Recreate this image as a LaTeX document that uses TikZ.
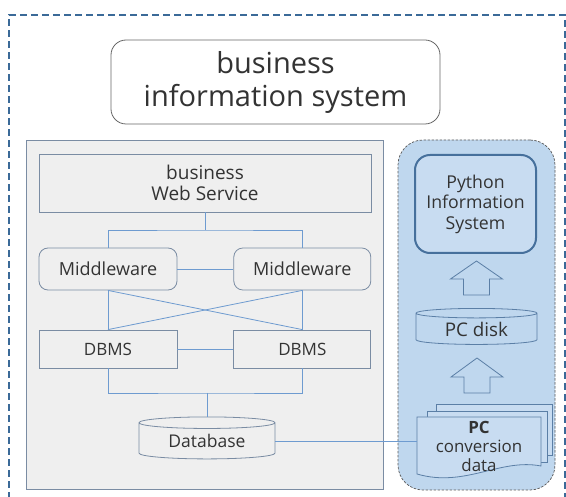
\documentclass[tikz,border=0pt]{standalone}
\usepackage{fontspec}
\setmainfont{Open Sans}
\usetikzlibrary{positioning, shapes.geometric}

\definecolor{framecol}{HTML}{3B6A98}
\definecolor{edgecol}{HTML}{7A8CA3}
\definecolor{linkcol}{HTML}{6E9BD0}
\definecolor{panelgray}{HTML}{EFEFEF}
\definecolor{panelblue}{HTML}{BFD7EE}
\definecolor{pyfill}{HTML}{C8DCF1}
\definecolor{pyedge}{HTML}{46709C}
\definecolor{pcedge}{HTML}{5B7FA6}

\newcommand{\fsz}[2]{\fontsize{#1}{#2}\selectfont}

\tikzset{
x=1pt, y=-1pt, % one unit is one pixel, y runs downwards
txt/.style={font=\fsz{17}{20}, text=black!80, align=center}, % text in the boxes
box/.style={draw=edgecol, fill=panelgray, line width=0.8pt, txt, inner sep=0pt}, % plain boxes in the grey panel
rbox/.style={box, rounded corners=9pt}, % rounded boxes (middleware)
link/.style={draw=linkcol, line width=0.8pt}, % connecting lines
drum/.style={cylinder, shape border rotate=90, draw, line width=0.8pt, txt, inner sep=0pt, aspect=0.15}, % disks
hollow/.style={draw=pcedge, fill=panelblue, line width=0.8pt, line join=miter}, % hollow up arrows
page/.style={draw=pcedge, fill=pyfill, line width=0.8pt}, % sheets of the data stack
}

\begin{document}
\begin{tikzpicture}
\useasboundingbox (0,0) rectangle (566,497);

% outer frame, it runs off the page at the bottom
\draw[framecol, line width=2pt, dash pattern=on 7pt off 4pt] (9,510) -- (9,15) -- (565,15) -- (565,510);

\node[draw=gray!80!black, fill=white, line width=0.8pt, rounded corners=15pt, minimum width=329pt, minimum height=84pt,
  font=\fsz{29}{33}, align=center, text=black!80] (bis) at (275.5,82) {business\\information system};

% left part: web service, middleware, dbms
\node[draw=edgecol, fill=panelgray, line width=0.8pt, minimum width=357pt, minimum height=349pt] (erp) at (204.5,314.5) {};
\node[box, font=\fsz{19}{21}, minimum width=332pt, minimum height=58pt] (web) at (205,183) {business\\Web Service};
\node[rbox, font=\fsz{18}{21}, minimum width=138pt, minimum height=42pt] (mw1) at (108,269) {Middleware};
\node[rbox, font=\fsz{18}{21}, minimum width=137pt, minimum height=42pt, right=56pt of mw1] (mw2) {Middleware};
\node[box, minimum width=138pt, minimum height=38pt] (dbms1) at (108,349) {DBMS};
\node[box, minimum width=137pt, minimum height=38pt, right=56pt of dbms1] (dbms2) {DBMS};
\node[drum, font=\fsz{17.5}{20}, draw=edgecol, fill=panelgray, minimum width=136pt, minimum height=42pt] (db) at (207,441) {Database};

\coordinate (bus1) at (205,230);
\coordinate (bus2) at (207,393);
\draw[link] (web.south) -- (bus1);
\draw[link] (mw1.north) |- (bus1) -| (mw2.north);
\draw[link] (mw1) -- (mw2);
\draw[link] (mw1.south) -- (dbms1.north);
\draw[link] (mw2.south) -- (dbms2.north);
\draw[link] (mw1.south) -- (dbms2.north);
\draw[link] (mw2.south) -- (dbms1.north);
\draw[link] (dbms1) -- (dbms2);
\draw[link] (dbms1.south) |- (bus2) -| (dbms2.south);
\draw[link] (bus2) -- (db.north);

% right part: the python side
\node[draw=gray!70!black, fill=panelblue, line width=0.7pt, dash pattern=on 2.5pt off 1.5pt, rounded corners=25pt,
  minimum width=157pt, minimum height=350pt] (pcs) at (476.5,315) {};
\node[txt, font=\fsz{17.7}{20.5}, draw=pyedge, fill=pyfill, line width=2pt, rounded corners=15pt,
  minimum width=121pt, minimum height=98pt] (py) at (475.5,204) {Python\\Information\\System};
\node[drum, font=\fsz{18.8}{21}, draw=pcedge, fill=panelblue, minimum width=121pt, minimum height=36pt] (disk) at (476.5,329) {PC disk};

% the two up arrows, drawn from their tips
\coordinate (up1) at (476.5,261);
\coordinate (up2) at (477,358);
\draw[hollow] (up1) -- ++(26,18) -- ++(-13,0) -- ++(0,16) -- ++(-26,0) -- ++(0,-16) -- ++(-13,0) -- cycle;
\draw[hollow] (up2) -- ++(26,19) -- ++(-13,0) -- ++(0,16) -- ++(-26,0) -- ++(0,-16) -- ++(-13,0) -- cycle;

% stack of data sheets
\draw[page] (436,404) rectangle (552,455);
\draw[page] (427,411) rectangle (547,462);
\draw[page] (417,417) -- (541,417) -- (541,466) .. controls (500,458) and (465,488) .. (417,474) -- cycle;
\node[txt, font=\fsz{16.9}{19}, minimum width=124pt] (pcdata) at (479,446) {\textbf{PC}\\conversion\\data};

\draw[link] (db.east) -- (db.east -| pcdata.west);
\end{tikzpicture}
\end{document}
